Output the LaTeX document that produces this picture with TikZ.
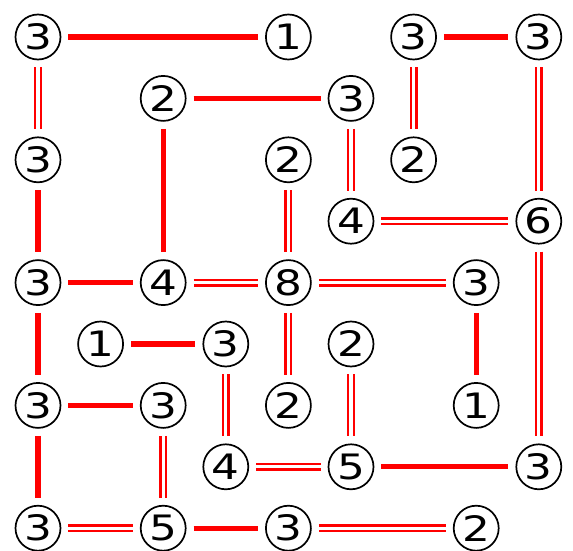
\documentclass[tikz,border=0pt]{standalone}
\usepackage{fontspec}
\newfontfamily\digitfont{DejaVu Sans}
\definecolor{bridgered}{RGB}{255,0,0}
\begin{document}
\begin{tikzpicture}[x=1pt,y=-1pt,
  isle/.style={circle,draw=black,line width=1.7pt,minimum size=45pt,inner sep=0pt,
    font=\digitfont\fontsize{35}{35}\selectfont},
  single/.style={draw=bridgered,line width=5.2pt,shorten >=7pt,shorten <=7pt},
  twin/.style={draw=bridgered,line width=2.4pt,double=white,double distance=3.2pt,shorten >=7pt,shorten <=7pt}]
\useasboundingbox (0,0) rectangle (573,551);
\newcommand\isl[4]{\node[isle] (#1) at ({38+62.6*#2},{37+61.4*#3}) {\scalebox{1.25}[1]{#4}};}
\isl{a}{0}{0}{3}\isl{b}{4}{0}{1}\isl{c}{6}{0}{3}\isl{d}{8}{0}{3}
\isl{e}{2}{1}{2}\isl{f}{5}{1}{3}
\isl{g}{0}{2}{3}\isl{h}{4}{2}{2}\isl{i}{6}{2}{2}
\isl{j}{5}{3}{4}\isl{k}{8}{3}{6}
\isl{l}{0}{4}{3}\isl{m}{2}{4}{4}\isl{n}{4}{4}{8}\isl{o}{7}{4}{3}
\isl{p}{1}{5}{1}\isl{q}{3}{5}{3}\isl{r}{5}{5}{2}
\isl{s}{0}{6}{3}\isl{t}{2}{6}{3}\isl{u}{4}{6}{2}\isl{v}{7}{6}{1}
\isl{w}{3}{7}{4}\isl{x}{5}{7}{5}\isl{y}{8}{7}{3}
\isl{z}{0}{8}{3}\isl{A}{2}{8}{5}\isl{B}{4}{8}{3}\isl{C}{7}{8}{2}
\foreach \u/\v in {a/b,c/d,e/f,e/m,g/l,l/m,o/v,p/q,l/s,s/t,s/z,x/y,A/B}
  \draw[single] (\u) -- (\v);
\foreach \u/\v in {a/g,c/i,d/k,f/j,h/n,j/k,m/n,n/o,n/u,k/y,q/w,r/x,t/A,w/x,z/A,B/C}
  \draw[twin] (\u) -- (\v);
\end{tikzpicture}
\end{document}
